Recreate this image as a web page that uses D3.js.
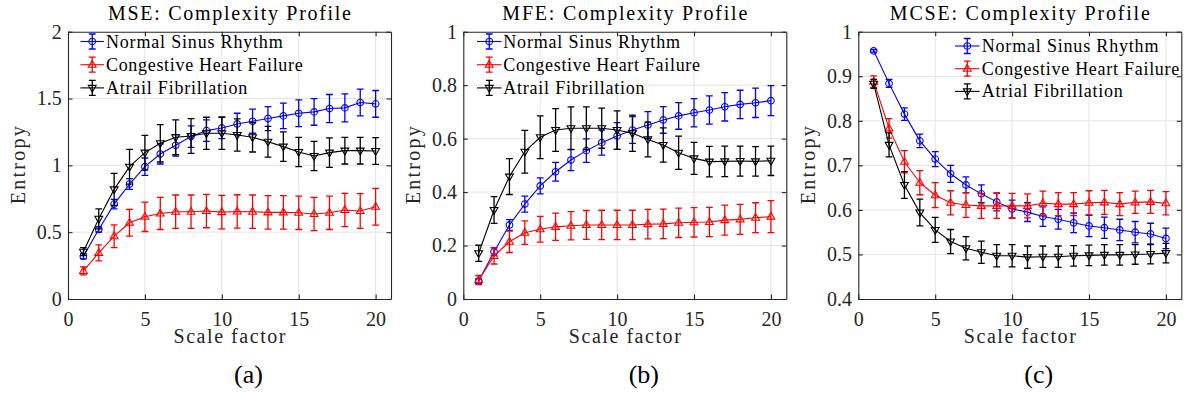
<!DOCTYPE html>
<html>
<head>
<meta charset="utf-8">
<script src="https://cdn.jsdelivr.net/npm/d3@7"></script>
<style>
  html, body { margin: 0; padding: 0; background: #fff; }
  svg, svg text { font-family: "Liberation Serif", "DejaVu Serif", serif !important; }
</style>
</head>
<body>
<svg id="chart" width="1191" height="403"></svg>
<script>
// Scale factors shared by all three profiles
const scaleFactors = [1, 2, 3, 4, 5, 6, 7, 8, 9, 10, 11, 12, 13, 14, 15, 16, 17, 18, 19, 20];

// MSE profile (mean, half-width of error bar)
const mseNSR    = [0.32, 0.52, 0.71, 0.86, 0.99, 1.085, 1.15, 1.215, 1.26, 1.28, 1.31, 1.33, 1.35, 1.37, 1.39, 1.40, 1.425, 1.43, 1.47, 1.46];
const mseNSRErr = [0.02, 0.02, 0.035, 0.04, 0.065, 0.075, 0.08, 0.08, 0.08, 0.08, 0.08, 0.09, 0.09, 0.095, 0.1, 0.1, 0.105, 0.105, 0.1, 0.1];
const mseCHF    = [0.21, 0.345, 0.47, 0.57, 0.615, 0.64, 0.653, 0.653, 0.658, 0.65, 0.655, 0.653, 0.648, 0.648, 0.645, 0.636, 0.645, 0.666, 0.658, 0.69];
const mseCHFErr = [0.03, 0.06, 0.085, 0.1, 0.11, 0.12, 0.125, 0.125, 0.125, 0.125, 0.125, 0.125, 0.125, 0.125, 0.125, 0.125, 0.125, 0.125, 0.13, 0.137];
const mseAF     = [0.354, 0.60, 0.82, 0.99, 1.095, 1.165, 1.21, 1.22, 1.24, 1.24, 1.227, 1.21, 1.177, 1.14, 1.10, 1.07, 1.095, 1.11, 1.11, 1.107];
const mseAFErr  = [0.03, 0.075, 0.12, 0.13, 0.13, 0.14, 0.13, 0.13, 0.12, 0.12, 0.12, 0.11, 0.115, 0.11, 0.11, 0.11, 0.11, 0.1, 0.1, 0.1];

// MFE profile
const mfeNSR    = [0.067, 0.177, 0.277, 0.355, 0.423, 0.476, 0.52, 0.555, 0.585, 0.61, 0.632, 0.651, 0.67, 0.685, 0.697, 0.707, 0.719, 0.728, 0.734, 0.742];
const mfeNSRErr = [0.008, 0.015, 0.02, 0.03, 0.03, 0.035, 0.04, 0.044, 0.047, 0.05, 0.05, 0.05, 0.05, 0.05, 0.053, 0.053, 0.053, 0.053, 0.055, 0.056];
const mfeCHF    = [0.071, 0.161, 0.214, 0.248, 0.261, 0.27, 0.274, 0.277, 0.277, 0.277, 0.277, 0.28, 0.281, 0.285, 0.287, 0.288, 0.295, 0.298, 0.304, 0.308];
const mfeCHFErr = [0.017, 0.03, 0.04, 0.044, 0.048, 0.051, 0.053, 0.054, 0.055, 0.055, 0.055, 0.055, 0.055, 0.055, 0.055, 0.055, 0.056, 0.056, 0.056, 0.06];
const mfeAF     = [0.171, 0.333, 0.458, 0.551, 0.605, 0.632, 0.639, 0.639, 0.639, 0.632, 0.62, 0.597, 0.576, 0.547, 0.526, 0.514, 0.515, 0.516, 0.515, 0.517];
const mfeAFErr  = [0.03, 0.05, 0.067, 0.08, 0.08, 0.08, 0.08, 0.08, 0.075, 0.072, 0.068, 0.065, 0.064, 0.062, 0.06, 0.057, 0.057, 0.056, 0.055, 0.055];

// MCSE profile
const mcseNSR    = [0.957, 0.884, 0.815, 0.755, 0.714, 0.681, 0.656, 0.636, 0.618, 0.602, 0.595, 0.585, 0.579, 0.571, 0.564, 0.56, 0.555, 0.55, 0.546, 0.536];
const mcseNSRErr = [0.003, 0.009, 0.014, 0.015, 0.017, 0.019, 0.018, 0.02, 0.02, 0.02, 0.021, 0.022, 0.022, 0.022, 0.024, 0.024, 0.024, 0.024, 0.024, 0.023];
const mcseCHF    = [0.888, 0.783, 0.708, 0.661, 0.633, 0.616, 0.611, 0.609, 0.609, 0.609, 0.609, 0.615, 0.613, 0.613, 0.616, 0.617, 0.613, 0.617, 0.618, 0.615];
const mcseCHFErr = [0.013, 0.022, 0.025, 0.027, 0.028, 0.027, 0.028, 0.028, 0.028, 0.028, 0.027, 0.027, 0.026, 0.026, 0.027, 0.027, 0.026, 0.025, 0.026, 0.026];
const mcseAF     = [0.883, 0.746, 0.656, 0.594, 0.555, 0.529, 0.514, 0.505, 0.497, 0.497, 0.494, 0.495, 0.495, 0.497, 0.498, 0.499, 0.499, 0.5, 0.501, 0.503];
const mcseAFErr  = [0.01, 0.027, 0.03, 0.03, 0.028, 0.027, 0.026, 0.025, 0.025, 0.025, 0.025, 0.024, 0.024, 0.023, 0.023, 0.023, 0.023, 0.022, 0.022, 0.022];

// Axis ticks
const xTicks = [0, 5, 10, 15, 20];
const mseTicks  = [0, 0.5, 1, 1.5, 2];
const mfeTicks  = [0, 0.2, 0.4, 0.6, 0.8, 1];
const mcseTicks = [0.4, 0.5, 0.6, 0.7, 0.8, 0.9, 1];

// Titles, captions and legend labels
const titles   = ["MSE: Complexity Profile", "MFE: Complexity Profile", "MCSE: Complexity Profile"];
const captions = ["(a)", "(b)", "(c)"];
const legendAB = ["Normal Sinus Rhythm", "Congestive Heart Failure", "Atrail Fibrillation"];
const legendC  = ["Normal Sinus Rhythm", "Congestive Heart Failure", "Atrial Fibrillation"];

const panels = [
  { title: titles[0], caption: captions[0], yDomain: [0, 2], yTicks: mseTicks, labels: legendAB,
    series: [[mseNSR, mseNSRErr], [mseCHF, mseCHFErr], [mseAF, mseAFErr]],
    left: 68, titleLen: 243, legend: { x0: 80.5, x1: 104, tx: 106, y0: 41.5, dy: 23.2, lens: [176.7, 196.7, 141.3] } },
  { title: titles[1], caption: captions[1], yDomain: [0, 1], yTicks: mfeTicks, labels: legendAB,
    series: [[mfeNSR, mfeNSRErr], [mfeCHF, mfeCHFErr], [mfeAF, mfeAFErr]],
    left: 463.3, titleLen: 245, legend: { x0: 477, x1: 501.5, tx: 503.3, y0: 41.5, dy: 23.2, lens: [176.7, 196.7, 141.3] } },
  { title: titles[2], caption: captions[2], yDomain: [0.4, 1], yTicks: mcseTicks, labels: legendC,
    series: [[mcseNSR, mcseNSRErr], [mcseCHF, mcseCHFErr], [mcseAF, mcseAFErr]],
    left: 858.3, titleLen: 260, legend: { x0: 955, x1: 979.5, tx: 981.7, y0: 46, dy: 22.7, lens: [176.7, 197.6, 141] } }
];

const seriesStyle = [
  { color: "#0000ff", marker: "circle" },
  { color: "#ff0000", marker: "up" },
  { color: "#000000", marker: "down" }
];

const W = 323, TOP = 31.7, BOTTOM = 299;
const axisColor = "#262626", gridColor = "#e4e4e4";
const serif = "'Liberation Serif', 'DejaVu Serif', serif";
const svg = d3.select("#chart").attr("font-family", serif);
svg.append("rect").attr("width", 1191).attr("height", 403).attr("fill", "#fff");

function markerPath(kind) {
  if (kind === "circle") return d3.symbol(d3.symbolCircle, Math.PI * 3.3 * 3.3)();
  if (kind === "up") return "M0,-4.3L3.9,2.5L-3.9,2.5Z";
  return "M0,4.3L3.9,-2.5L-3.9,-2.5Z";
}

function errorBar(g, cx, yLo, yHi, color) {
  const cap = 3.4;
  const p = d3.path();
  p.moveTo(cx, yLo); p.lineTo(cx, yHi);
  p.moveTo(cx - cap, yLo); p.lineTo(cx + cap, yLo);
  p.moveTo(cx - cap, yHi); p.lineTo(cx + cap, yHi);
  g.append("path").attr("d", p.toString()).attr("fill", "none")
    .attr("stroke", color).attr("stroke-width", 1.3);
}

panels.forEach(pn => {
  const x = d3.scaleLinear([0, 21], [pn.left, pn.left + W]);
  const y = d3.scaleLinear(pn.yDomain, [BOTTOM, TOP]);
  const g = svg.append("g");
  const cx = pn.left + W / 2;

  // grid
  g.append("g").selectAll("line").data(xTicks.filter(t => t > 0)).join("line")
    .attr("x1", d => x(d)).attr("x2", d => x(d)).attr("y1", TOP).attr("y2", BOTTOM)
    .attr("stroke", gridColor).attr("stroke-width", 1);
  g.append("g").selectAll("line").data(pn.yTicks.slice(1, -1)).join("line")
    .attr("y1", d => y(d)).attr("y2", d => y(d)).attr("x1", pn.left).attr("x2", pn.left + W)
    .attr("stroke", gridColor).attr("stroke-width", 1);

  // data series
  pn.series.forEach(([vals, errs], si) => {
    const st = seriesStyle[si];
    const sg = g.append("g");
    sg.append("path").datum(vals)
      .attr("d", d3.line().x((d, i) => x(scaleFactors[i])).y(d => y(d)))
      .attr("fill", "none").attr("stroke", st.color).attr("stroke-width", 1.1);
    vals.forEach((v, i) => errorBar(sg, x(scaleFactors[i]), y(v - errs[i]), y(v + errs[i]), st.color));
    sg.selectAll("path.mk").data(vals).join("path").attr("class", "mk")
      .attr("transform", (d, i) => `translate(${x(scaleFactors[i])},${y(d)})`)
      .attr("d", markerPath(st.marker))
      .attr("fill", "none").attr("stroke", st.color).attr("stroke-width", 1.1);
  });

  // axes (ticks inside, box on all four sides)
  const style = a => {
    a.attr("font-family", serif).attr("font-size", 20);
    a.selectAll("path.domain").attr("stroke", axisColor).attr("stroke-width", 1.1).attr("fill", "none");
    a.selectAll(".tick line").attr("stroke", axisColor).attr("stroke-width", 1.1);
    a.selectAll("text").attr("fill", axisColor);
  };
  g.append("g").attr("transform", `translate(0,${BOTTOM})`)
    .call(d3.axisBottom(x).tickValues(xTicks).tickSize(-4.5).tickSizeOuter(0).tickPadding(12.5).tickFormat(d3.format("d")))
    .call(style);
  g.append("g").attr("transform", `translate(0,${TOP})`)
    .call(d3.axisTop(x).tickValues(xTicks).tickSize(-4.5).tickSizeOuter(0).tickFormat(""))
    .call(style);
  g.append("g").attr("transform", `translate(${pn.left},0)`)
    .call(d3.axisLeft(y).tickValues(pn.yTicks).tickSize(-4.5).tickSizeOuter(0).tickPadding(6.3).tickFormat(d => String(+d.toFixed(2))))
    .call(style);
  g.append("g").attr("transform", `translate(${pn.left + W},0)`)
    .call(d3.axisRight(y).tickValues(pn.yTicks).tickSize(-4.5).tickSizeOuter(0).tickFormat(""))
    .call(style);

  // legend
  const L = pn.legend;
  pn.labels.forEach((lab, i) => {
    const st = seriesStyle[i];
    const ry = L.y0 + i * L.dy;
    const mx = (L.x0 + L.x1) / 2;
    const lg = g.append("g");
    lg.append("line").attr("x1", L.x0).attr("x2", L.x1).attr("y1", ry).attr("y2", ry)
      .attr("stroke", st.color).attr("stroke-width", 1.1);
    errorBar(lg, mx, ry + 7.5, ry - 7.5, st.color);
    lg.append("path").attr("transform", `translate(${mx},${ry})`).attr("d", markerPath(st.marker))
      .attr("fill", "none").attr("stroke", st.color).attr("stroke-width", 1.1);
    lg.append("text").attr("x", L.tx).attr("y", ry + 6).attr("font-size", 18).attr("fill", "#000")
      .attr("textLength", L.lens[i]).attr("lengthAdjust", "spacing").text(lab);
  });

  // titles and labels
  g.append("text").attr("x", cx).attr("y", 19.5).attr("text-anchor", "middle")
    .attr("font-size", 20).attr("fill", "#000")
    .attr("textLength", pn.titleLen).attr("lengthAdjust", "spacing").text(pn.title);
  g.append("text").attr("x", cx).attr("y", 343).attr("text-anchor", "middle")
    .attr("font-size", 20).attr("fill", axisColor)
    .attr("textLength", 112).attr("lengthAdjust", "spacing").text("Scale factor");
  g.append("text").attr("transform", `translate(${pn.left - 43},${(TOP + BOTTOM) / 2}) rotate(-90)`)
    .attr("text-anchor", "middle").attr("font-size", 20).attr("fill", axisColor)
    .attr("textLength", 78).attr("lengthAdjust", "spacing").text("Entropy");
  g.append("text").attr("x", cx + 19).attr("y", 383).attr("text-anchor", "middle")
    .attr("font-size", 26).attr("fill", "#000").text(pn.caption);
});
</script>
</body>
</html>
